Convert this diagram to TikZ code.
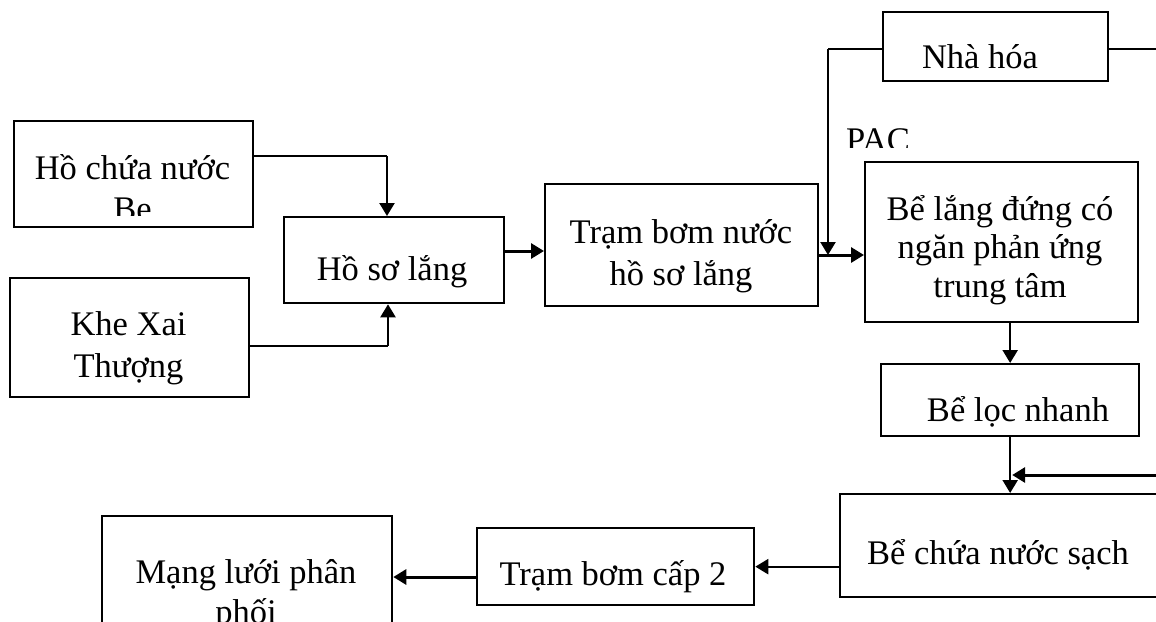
\documentclass[tikz,border=0pt]{standalone}
\usepackage{fontspec}
\setmainfont{Liberation Serif}
\usetikzlibrary{arrows.meta}
\begin{document}
\begin{tikzpicture}[x=1pt,y=-1pt,
  box/.style={draw, line width=2.3pt, rectangle, inner sep=0pt, anchor=north west},
  txt/.style={anchor=base, inner sep=0pt, font=\fontsize{34.5}{40}\selectfont},
  thinl/.style={line width=1.4pt},
  arrm/.style={line width=2.3pt, -{Triangle[length=13pt,width=15pt]}},
  arr/.style={line width=3pt, -{Triangle[length=13pt,width=15pt]}},
]
\useasboundingbox (0,0) rectangle (1156,621);
\clip (0,0) rectangle (1156,621);

% boxes
\node[box, minimum width=239pt, minimum height=106pt] (be) at (13,120) {};
\node[box, minimum width=239pt, minimum height=119pt] (khe) at (9,277) {};
\node[box, minimum width=220pt, minimum height=86pt] (hsl) at (283,216) {};
\node[box, minimum width=273pt, minimum height=122pt] (tram1) at (544,183) {};
\node[box, minimum width=225pt, minimum height=69pt] (nha) at (882,11) {};
\node[box, minimum width=273pt, minimum height=160pt] (bl) at (864,161) {};
\node[box, minimum width=258pt, minimum height=72pt] (loc) at (880,363) {};
\node[box, minimum width=351pt, minimum height=103pt] (chua) at (839,493) {};
\node[box, minimum width=277pt, minimum height=77pt] (tb2) at (476,527) {};
\node[box, minimum width=290pt, minimum height=145pt] (mang) at (101,515) {};

% texts
\node[txt] (beT1) at (132.5,179) {Hồ chứa nước};
\begin{scope}
  \clip (13,120) rectangle (252,215);
  \node[txt] (beT2) at (132.5,220) {Be};
\end{scope}
\node[txt] (kheT1) at (128.5,335) {Khe Xai};
\node[txt] (kheT2) at (128.5,377) {Thượng};
\node[txt] (hslT) at (392,280) {Hồ sơ lắng};
\node[txt] (tram1T1) at (681,243) {Trạm bơm nước};
\node[txt] (tram1T2) at (681,285) {hồ sơ lắng};
\node[txt] (nhaT) at (980,68) {Nhà hóa};
\begin{scope}
  \clip (830,100) rectangle (930,147);
  \node[txt] (pac) at (878,151) {PAC};
\end{scope}
\node[txt] (blT1) at (1000,220) {Bể lắng đứng có};
\node[txt] (blT2) at (1000,258) {ngăn phản ứng};
\node[txt] (blT3) at (1000,297) {trung tâm};
\node[txt] (locT) at (1018,421) {Bể lọc nhanh};
\node[txt] (chuaT) at (998,564) {Bể chứa nước sạch};
\node[txt] (tb2T) at (613,585) {Trạm bơm cấp 2};
\node[txt] (mangT1) at (246,583) {Mạng lưới phân};
\node[txt] (mangT2) at (246,623) {phối};

% connector coordinates
\coordinate (c1) at (387,156);
\coordinate (c2) at (388,346);
\coordinate (h1) at (503,251);
\coordinate (j) at (828,255);
\coordinate (k) at (828,49);
\coordinate (kr) at (1170,49);
\coordinate (r) at (1170,475);
\coordinate (m1) at (476,577);

% connectors
\draw[thinl] (be.east |- c1) -- (c1);
\draw[arrm] (c1) -- (c1 |- hsl.north);
\draw[thinl] (khe.east |- c2) -- (c2);
\draw[arrm] (c2) -- (c2 |- hsl.south);
\draw[arr] (h1) -- (tram1.west |- h1);
\draw[arr] (tram1.east |- j) -- (bl.west |- j);
\draw[thinl] (nha.west |- k) -- (k);
\draw[arrm] (k) -- (j);
\draw[thinl] (nha.east |- k) -- (kr);
\draw[arrm] (bl.south -| loc.north) -- (loc.north);
\draw[arrm] (loc.south) -- (loc.south |- chua.north);
\draw[arr] (r) -- ([xshift=2pt]loc.south |- r);
\draw[arrm] (chua.west |- tb2.east) -- (tb2.east);
\draw[arr] (m1) -- (mang.east |- m1);
\end{tikzpicture}
\end{document}
